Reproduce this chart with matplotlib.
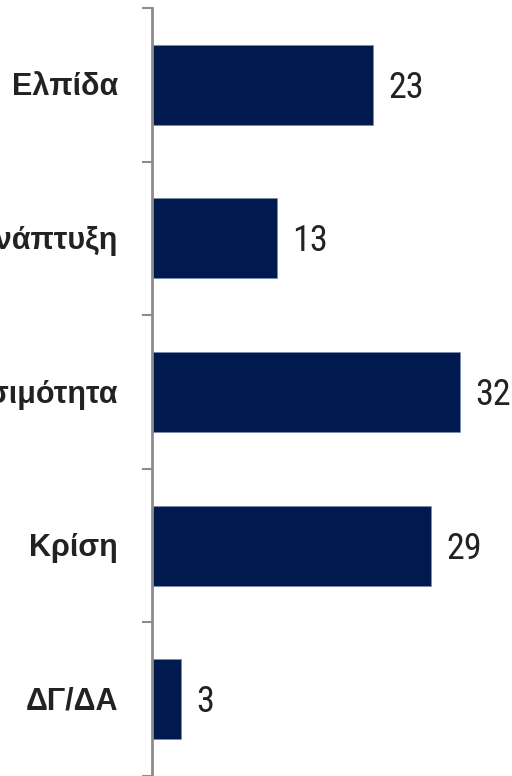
import numpy as np
import matplotlib
matplotlib.use("Agg")
import matplotlib.pyplot as plt
from matplotlib import font_manager
from matplotlib.transforms import offset_copy

categories = ["Ελπίδα", "Ανάπτυξη", "Χρησιμότητα", "Κρίση", "ΔΓ/ΔΑ"]
values = [23, 13, 32, 29, 3]

bar_color = "#00194F"
spine_color = "#8c8c8c"

names = {f.name for f in font_manager.fontManager.ttflist}
num_font = "Liberation Sans"
for cand in ["Roboto Condensed", "Liberation Sans Narrow", "Open Sans Condensed"]:
    if cand in names:
        num_font = cand
        break
num_size = 26 if num_font != "Liberation Sans" else 22

fig = plt.figure(figsize=(5.12, 7.76), dpi=100)
ax = fig.add_axes([152 / 512, 0, 1 - 152 / 512, 768 / 776])

y = np.arange(len(categories))
ax.barh(y, values, height=0.52, color=bar_color, edgecolor="#7d8bb0", linewidth=0.4)

ax.set_xlim(0, 37.4)
ax.set_ylim(len(categories) - 0.5, -0.5)

# value labels, baseline a bit below the bar centre
num_tr = offset_copy(ax.transData, fig=fig, x=0, y=-13, units="dots")
for yi, v in zip(y, values):
    ax.text(v + 1.56, yi, str(v), va="baseline", ha="left", transform=num_tr,
            fontsize=num_size, family=num_font, color="#222222")

# category labels left of the axis
lab_tr = offset_copy(ax.get_yaxis_transform(), fig=fig, x=-34, y=-10.5, units="dots")
for yi, c in zip(y, categories):
    ax.text(0, yi, c, va="baseline", ha="right", transform=lab_tr,
            fontsize=22, fontweight="bold", family="Liberation Sans", color="#222222")

for s in ["top", "right", "bottom"]:
    ax.spines[s].set_visible(False)
ax.spines["left"].set_color(spine_color)
ax.spines["left"].set_linewidth(2)

ax.set_xticks([])
ax.set_yticks(np.arange(-0.5, len(categories) + 0.5, 1))
ax.set_yticklabels([])
ax.tick_params(axis="y", which="major", length=7.5, width=1.5, color=spine_color)

fig.savefig("out.png", dpi=100)
